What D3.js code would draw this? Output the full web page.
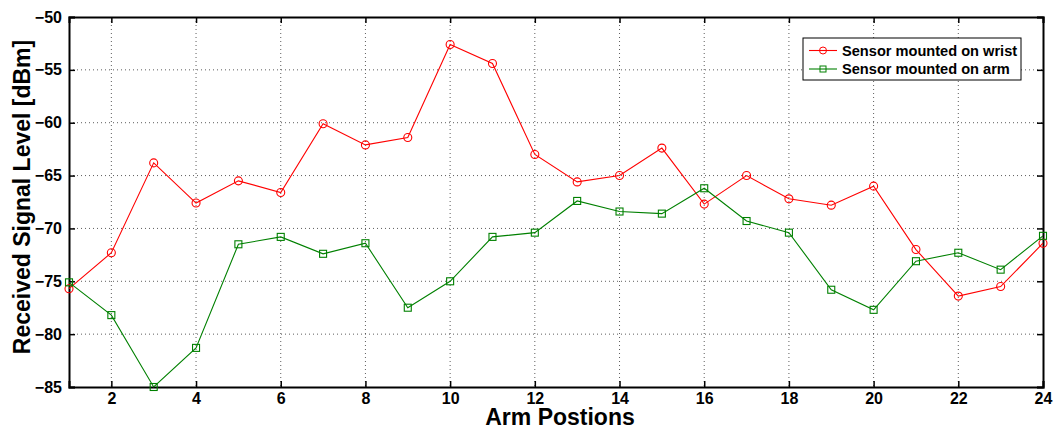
<!DOCTYPE html>
<html>
<head>
<meta charset="utf-8">
<script src="https://cdn.jsdelivr.net/npm/d3@7"></script>
<style>
  body { margin: 0; background: #fff; }
  svg text { font-family: "Liberation Sans", Arial, sans-serif; font-weight: bold; }
</style>
</head>
<body>
<div id="chart"></div>
<script>
const positions = d3.range(1, 25);
const wrist = [-75.7, -72.3, -63.8, -67.6, -65.5, -66.6, -60.1, -62.1, -61.4, -52.6, -54.4, -63.0,
               -65.6, -65.0, -62.4, -67.7, -65.0, -67.2, -67.8, -66.0, -72.0, -76.4, -75.5, -71.4];
const arm = [-75.1, -78.2, -85.0, -81.3, -71.5, -70.8, -72.4, -71.4, -77.5, -75.0, -70.8, -70.4,
             -67.4, -68.4, -68.6, -66.2, -69.3, -70.4, -75.8, -77.7, -73.1, -72.3, -73.9, -70.7];
const xTicks = [2, 4, 6, 8, 10, 12, 14, 16, 18, 20, 22, 24];
const yTicks = [-85, -80, -75, -70, -65, -60, -55, -50];
const seriesNames = ["Sensor mounted on wrist", "Sensor mounted on arm"];
const seriesColors = ["#ff0000", "#008000"];

const W = 1058, H = 430;
const margin = { top: 17, right: 15, bottom: 43, left: 69 };
const width = W - margin.left - margin.right;
const height = H - margin.top - margin.bottom;

const svg = d3.select("#chart").append("svg")
    .attr("width", W)
    .attr("height", H);
const g = svg.append("g")
    .attr("transform", "translate(" + margin.left + "," + margin.top + ")");

const x = d3.scaleLinear().domain([1, 24]).range([0, width]);
const y = d3.scaleLinear().domain([-85, -50]).range([height, 0]);

// dotted grid
g.append("g").selectAll("line.gx")
  .data(xTicks.filter(d => d < 24))
  .join("line")
    .attr("x1", d => x(d)).attr("x2", d => x(d))
    .attr("y1", 0).attr("y2", height)
    .attr("stroke", "#333").attr("stroke-width", 0.8)
    .attr("stroke-dasharray", "1,3");
g.append("g").selectAll("line.gy")
  .data(yTicks.filter(d => d > -85 && d < -50))
  .join("line")
    .attr("x1", 0).attr("x2", width)
    .attr("y1", d => y(d)).attr("y2", d => y(d))
    .attr("stroke", "#333").attr("stroke-width", 0.8)
    .attr("stroke-dasharray", "1,3");

// axes with inner ticks on all sides
const axBottom = g.append("g")
    .attr("transform", "translate(0," + height + ")")
    .call(d3.axisBottom(x).tickValues(xTicks).tickSize(-6).tickPadding(6));
const axTop = g.append("g")
    .call(d3.axisTop(x).tickValues(xTicks).tickSize(-6).tickFormat(""));
const axLeft = g.append("g")
    .call(d3.axisLeft(y).tickValues(yTicks).tickSize(-6).tickPadding(7));
const axRight = g.append("g")
    .attr("transform", "translate(" + width + ",0)")
    .call(d3.axisRight(y).tickValues(yTicks).tickSize(-6).tickFormat(""));

[axBottom, axTop, axLeft, axRight].forEach(a => {
  a.select(".domain").attr("stroke", "#000").attr("stroke-width", 2);
  a.selectAll(".tick line").attr("stroke", "#000").attr("stroke-width", 1.5);
  a.selectAll(".tick text").attr("font-size", 16).attr("fill", "#000")
    .style("font-family", "'Liberation Sans', Arial, sans-serif").style("font-weight", "bold");
});

const line = d3.line().x((d, i) => x(positions[i])).y(d => y(d));

// wrist series
g.append("path").datum(wrist)
  .attr("fill", "none").attr("stroke", seriesColors[0]).attr("stroke-width", 1.1)
  .attr("d", line);
g.append("g").selectAll("circle")
  .data(wrist)
  .join("circle")
    .attr("cx", (d, i) => x(positions[i]))
    .attr("cy", d => y(d))
    .attr("r", 4)
    .attr("fill", "none").attr("stroke", seriesColors[0]).attr("stroke-width", 1.1);

// arm series
g.append("path").datum(arm)
  .attr("fill", "none").attr("stroke", seriesColors[1]).attr("stroke-width", 1.1)
  .attr("d", line);
g.append("g").selectAll("rect")
  .data(arm)
  .join("rect")
    .attr("x", (d, i) => x(positions[i]) - 3.5)
    .attr("y", d => y(d) - 3.5)
    .attr("width", 7).attr("height", 7)
    .attr("fill", "none").attr("stroke", seriesColors[1]).attr("stroke-width", 1.1);

// legend
const legend = svg.append("g").attr("transform", "translate(803,38)");
legend.append("rect")
  .attr("width", 218).attr("height", 42)
  .attr("fill", "#fff").attr("stroke", "#000").attr("stroke-width", 1);
seriesNames.forEach((name, i) => {
  const row = legend.append("g").attr("transform", "translate(0," + (12.5 + i * 18.5) + ")");
  row.append("line").attr("x1", 6).attr("x2", 34)
    .attr("stroke", seriesColors[i]).attr("stroke-width", 1.1);
  if (i === 0) {
    row.append("circle").attr("cx", 20).attr("r", 3.5)
      .attr("fill", "none").attr("stroke", seriesColors[i]);
  } else {
    row.append("rect").attr("x", 17).attr("y", -3).attr("width", 6).attr("height", 6)
      .attr("fill", "none").attr("stroke", seriesColors[i]);
  }
  row.append("text").attr("x", 39).attr("dy", "0.36em")
    .attr("font-size", 14.6).text(name);
});

// axis labels
svg.append("text")
  .attr("x", 560).attr("y", 425)
  .attr("text-anchor", "middle").attr("font-size", 23)
  .text("Arm Postions");
svg.append("text")
  .attr("transform", "translate(30,197) rotate(-90)")
  .attr("text-anchor", "middle").attr("font-size", 23)
  .text("Received Signal Level [dBm]");
</script>
</body>
</html>
